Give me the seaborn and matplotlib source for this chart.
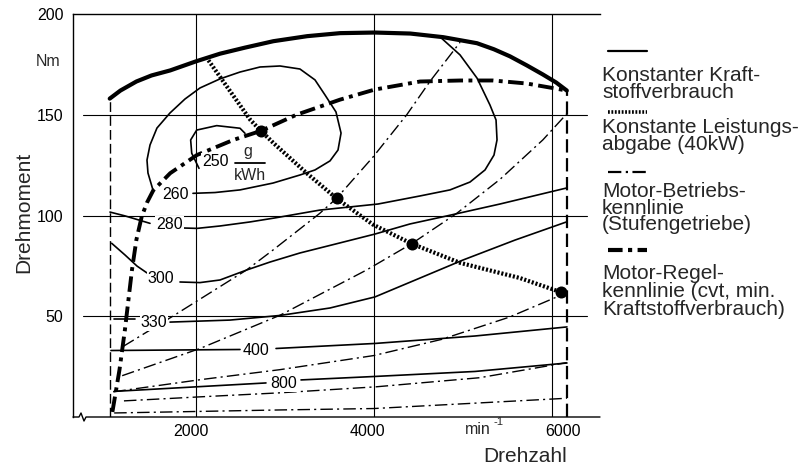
import matplotlib
matplotlib.use("Agg")
import matplotlib.pyplot as plt
import matplotlib.transforms as mtransforms
from matplotlib.lines import Line2D
import seaborn as sns

# ---------------- data (rpm, Nm) ----------------
n_min, n_max = 1030, 6170
n_min_top, n_max_top = 158, 162

full_rpm = [1030, 1150, 1330, 1500, 1710, 2000, 2270, 2550, 2870, 3250, 3620, 4010, 4410, 4780, 5160,
            5350, 5530, 5720, 5900, 6050, 6170]
full_nm = [158, 162, 166.5, 169.5, 172, 176.5, 180.3, 183.3, 186.5, 189, 190.5, 190.8, 190.3, 188.5, 185.5,
           182.5, 179, 174.5, 170, 166, 162]

cvt_rpm = [1060, 1140, 1200, 1280, 1330, 1390, 1450, 1520, 1710, 2010, 2420, 2730, 3130, 3620, 4010, 4520,
           4970, 5340, 5720, 5980, 6170]
cvt_nm = [2.5, 23.5, 43, 73, 88, 99.5, 106.5, 112.5, 121, 130, 137.5, 142, 150, 157.5, 162.5, 166.5,
          167, 167, 165.5, 163.5, 162]

pow_rpm = [2140, 2610, 2730, 2870, 3245, 3580, 3990, 4425, 4970, 5640, 6100]
pow_nm = [177, 147.5, 142, 136, 121, 108.5, 95.5, 86, 76.5, 69, 62]

dot_rpm = [2730, 3580, 4425, 6100]
dot_nm = [142, 108.5, 86, 62]

g1_rpm = [1180, 1720, 2570, 2870, 3390, 3580, 3990, 4370, 4630, 4970]
g1_nm = [35, 49.5, 73, 83, 101, 108.5, 129, 150, 166.5, 186]
g2_rpm = [1170, 2045, 2945, 3920, 4425, 4930, 5420, 5900, 6170]
g2_nm = [20.5, 34, 50.5, 73, 86, 101, 118, 137.5, 150.5]
g3_rpm = [1070, 2045, 2945, 4000, 4760, 5520, 6080]
g3_nm = [12.5, 18.5, 23.5, 30.5, 38.5, 49.5, 60]
g4_rpm = [1190, 2045, 2945, 4030, 5190, 6170]
g4_nm = [8, 10, 12, 15, 19.5, 27]
g5_rpm = [1080, 2945, 4000, 6170]
g5_nm = [2, 3.5, 4.2, 9.3]

c250_rpm = [2551, 2495, 2233, 2008, 1940, 1952, 2034]
c250_nm = [140.8, 143.3, 144.6, 142.4, 137.5, 130.9, 123.4]

c260_rpm = [1516, 1460, 1449, 1483, 1561, 1708, 1876, 2045, 2270, 2495, 2720, 2945, 3169, 3338,
            3451, 3574, 3631, 3597, 3507, 3338, 3169, 2866, 2495, 2214, 1966]
c260_nm = [112.7, 121.1, 127.5, 135, 143.4, 150.9, 157.8, 163.3, 167.8, 171.2, 173.7, 174.2, 172.7, 167.3,
           159.8, 151.4, 140.9, 132.5, 127.1, 122.6, 120.1, 116.1, 112.7, 111.4, 111]

c280a_rpm = [1033, 1202, 1483]
c280a_nm = [101.7, 99.8, 96.1]
c280b_rpm = [1854, 2011, 2270, 2607, 2888, 3394, 4047, 4519, 4856, 5081, 5250, 5351, 5385, 5374, 5306, 5160, 4969, 4763]
c280b_nm = [93.8, 93.6, 94.8, 96.8, 98.8, 102.7, 105.7, 109.7, 112.7, 116.6, 122.6, 130, 137.5, 147.4, 154.8, 168.2, 179.7, 187.9]

c300a_rpm = [1052, 1202, 1337, 1449]
c300a_nm = [86.2, 80.4, 74.9, 71.5]
c300b_rpm = [1820, 2045, 2270, 2573, 2832, 3169, 3619, 4013, 4406, 4822, 5418, 6172]
c300b_nm = [67, 66.7, 68, 73, 76.9, 81.4, 86.4, 90.8, 95.8, 99.8, 105.7, 113.7]

c330a_rpm = [1078, 1314]
c330a_nm = [48.4, 48.4]
c330b_rpm = [1708, 2382, 2945, 3507, 4013, 4440, 5002, 5587, 6172]
c330b_nm = [47.1, 48.1, 50.4, 54.1, 59.6, 67.5, 77.9, 87.8, 96.9]

c400a_rpm = [1044, 2495]
c400a_nm = [33, 33.5]
c400b_rpm = [2900, 4013, 5137, 6172]
c400b_nm = [34, 36.5, 40.2, 44.7]

c800a_rpm = [1078, 2787]
c800a_nm = [12.7, 16.9]
c800b_rpm = [3181, 4002, 5137, 6172]
c800b_nm = [18.4, 20.1, 22.6, 26.8]

label_text = ["250", "260", "280", "300", "330", "400", "800"]
label_rpm = [2214, 1769, 1702, 1606, 1528, 2680, 2984]
label_nm = [127, 110.2, 95.5, 68.5, 46.9, 32.8, 16.4]

x_ticks = [2000, 4000, 6000]
y_ticks = [50, 100, 150, 200]

legend_texts = [
    "Konstanter Kraft-\nstoffverbrauch",
    "Konstante Leistungs-\nabgabe (40kW)",
    "Motor-Betriebs-\nkennlinie\n(Stufengetriebe)",
    "Motor-Regel-\nkennlinie (cvt, min.\nKraftstoffverbrauch)",
]

# ---------------- style ----------------
sns.set_theme(style="white")
plt.rcParams["font.family"] = ["Liberation Sans", "DejaVu Sans"]

W, H = 810, 467
fig = plt.figure(figsize=(W / 100, H / 100), dpi=100)
AX_L, AX_R, AX_T, AX_B = 73, 600, 14, 417
ax = fig.add_axes([AX_L / W, (H - AX_B) / H, (AX_R - AX_L) / W, (AX_B - AX_T) / H])
ax.set_xlim(617, 6543)
ax.set_ylim(0, 200)
ax.set_facecolor("white")

K = "black"


def draw(xs, ys, lw=1.1, ls="-", z=3):
    sns.lineplot(x=xs, y=ys, sort=False, estimator=None, errorbar=None, ax=ax,
                 color=K, linewidth=lw, linestyle=ls, legend=False, zorder=z)


# grid
for v in [50, 100, 150]:
    ax.axhline(v, xmin=(83 - AX_L) / (AX_R - AX_L), xmax=(587 - AX_L) / (AX_R - AX_L),
               color=K, lw=0.8, zorder=1)
for v in x_ticks:
    ax.axvline(v, color=K, lw=0.8, zorder=1)

# operating boundaries
draw([n_min, n_min], [0, n_min_top], lw=1.0, ls=(0, (7, 3)), z=2)
draw([n_max, n_max], [0, n_max_top], lw=1.6, ls=(0, (6, 2.5)), z=2)

# fuel consumption contours
for xs, ys in [(c250_rpm, c250_nm), (c260_rpm, c260_nm), (c280a_rpm, c280a_nm), (c280b_rpm, c280b_nm),
               (c300a_rpm, c300a_nm), (c300b_rpm, c300b_nm), (c330a_rpm, c330a_nm), (c330b_rpm, c330b_nm),
               (c400a_rpm, c400a_nm), (c400b_rpm, c400b_nm), (c800a_rpm, c800a_nm), (c800b_rpm, c800b_nm)]:
    draw(xs, ys, lw=1.2)

# gear operating lines
for xs, ys in [(g1_rpm, g1_nm), (g2_rpm, g2_nm), (g3_rpm, g3_nm), (g4_rpm, g4_nm), (g5_rpm, g5_nm)]:
    draw(xs, ys, lw=1.0, ls=(0, (9, 3, 1.5, 3)))

# full load
draw(full_rpm, full_nm, lw=3.0, z=4)
# cvt line
draw(cvt_rpm, cvt_nm, lw=2.8, ls=(0, (4, 1.4, 1, 1.4)), z=4)
# constant power
draw(pow_rpm, pow_nm, lw=3.0, ls=(0, (0.5, 0.45)), z=4)
sns.scatterplot(x=dot_rpm, y=dot_nm, ax=ax, color=K, s=75, edgecolor=K, linewidth=0, zorder=6, legend=False)

# contour labels
for t, x, y in zip(label_text, label_rpm, label_nm):
    ax.text(x, y, t, ha="center", va="center", fontsize=11.5, color=K, zorder=7,
            bbox=dict(boxstyle="square,pad=0.05", fc="white", ec="none"))
ax.text(2585, 131.8, "g", ha="center", va="center", fontsize=11.5, zorder=7)
ax.text(2607, 119.9, "kWh", ha="center", va="center", fontsize=11.5, zorder=7)
ax.plot([2439, 2776], [126, 126], color=K, lw=1.3, zorder=7)

# axes styling
ax.spines["right"].set_visible(False)
ax.spines["bottom"].set_visible(False)
for s in ["left", "top"]:
    ax.spines[s].set_color(K)
    ax.spines[s].set_linewidth(1.0)
ax.set_xticks(x_ticks)
ax.set_xticklabels([str(v) for v in x_ticks])
ax.set_yticks(y_ticks)
ax.set_yticklabels([str(v) for v in y_ticks])
ax.tick_params(axis="both", length=0, labelsize=11.5, colors=K)
ax.tick_params(axis="y", pad=7)
ax.tick_params(axis="x", pad=5)
offs = [-5, -6, 11]
for lab, dx in zip(ax.get_xticklabels(), offs):
    lab.set_transform(lab.get_transform() + mtransforms.ScaledTranslation(dx / 100, 0, fig.dpi_scale_trans))
ax.set_xlabel("")
ax.set_ylabel("")


def fx(px):
    return px / W


def fy(py):
    return 1 - py / H


# bottom axis line with break mark
bx = [73, 79, 81, 84, 86, 600]
by = [417, 417, 413, 421, 417, 417]
fig.add_artist(Line2D([fx(v) for v in bx], [fy(v) for v in by], color=K, lw=1.0))

# axis texts
fig.text(fx(48), fy(62), "Nm", ha="center", va="center", fontsize=11.5)
fig.text(fx(24), fy(212), "Drehmoment", ha="center", va="center", rotation=90, fontsize=15)
fig.text(fx(525), fy(457), "Drehzahl", ha="center", va="center", fontsize=15)
fig.text(fx(465), fy(434), "min", ha="left", va="baseline", fontsize=11.5)
fig.text(fx(494), fy(425), "-1", ha="left", va="baseline", fontsize=8)

# legend (baseline given for the last line of each block)
samples = [
    (51, dict(lw=1.6, ls="-")),
    (112, dict(lw=2.6, ls=(0, (0.5, 0.45)))),
    (172, dict(lw=1.6, ls=(0, (6, 2, 1, 2)))),
    (250, dict(lw=3.0, ls=(0, (3.5, 1.3, 1, 1.3)))),
]
last_baselines = [97.5, 149.5, 230, 315]
spacings = [0.86, 0.86, 0.82, 0.92]
for (sy, st), txt, b, ls in zip(samples, legend_texts, last_baselines, spacings):
    fig.add_artist(Line2D([fx(608), fx(647)], [fy(sy), fy(sy)], color=K, linewidth=st["lw"], linestyle=st["ls"]))
    fig.text(fx(602), fy(b), txt, ha="left", va="baseline", fontsize=15, linespacing=ls)

fig.savefig("out.png", dpi=100, facecolor="white")
